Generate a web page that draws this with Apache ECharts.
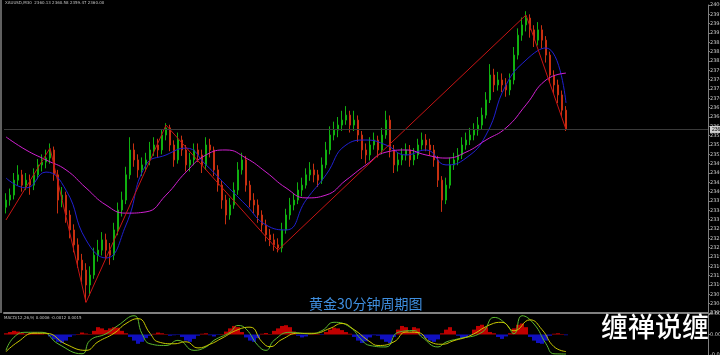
<!DOCTYPE html>
<html><head><meta charset="utf-8">
<script src="https://cdn.jsdelivr.net/npm/echarts@6/dist/echarts.min.js"></script>
<style>html,body{margin:0;padding:0;background:#000;}#c{width:720px;height:355px;}</style>
</head><body><div id="c"></div>
<script>
const slotCount = 176;
const closes = [
2337.3,2338.9,2343.7,2345.4,2342.1,2343.7,2342.1,2345.4,2348.6,2349.5,
2350.8,2353.4,2345.4,2337.3,2338.9,2332.5,2327.7,2322.9,2318.0,2314.8,
2310.0,2313.2,2319.6,2321.2,2324.5,2321.2,2319.6,2327.7,2334.1,2337.3,
2345.4,2353.4,2350.2,2347.0,2348.6,2350.2,2353.4,2355.0,2353.4,2358.2,
2360.5,2355.0,2350.2,2356.6,2353.4,2348.6,2350.2,2353.4,2351.8,2348.6,
2355.0,2353.4,2347.0,2342.1,2337.3,2332.5,2335.7,2340.5,2347.0,2350.2,
2342.1,2337.3,2335.7,2332.5,2329.3,2326.1,2324.5,2322.9,2321.9,2327.7,
2332.5,2335.7,2337.3,2340.5,2342.1,2345.4,2347.0,2345.4,2343.7,2348.6,
2353.4,2358.2,2359.8,2361.4,2363.0,2364.6,2361.4,2363.0,2358.2,2353.4,
2351.8,2355.0,2356.6,2353.4,2358.2,2363.0,2353.4,2348.6,2350.2,2351.8,
2353.4,2350.2,2351.8,2355.0,2356.6,2355.0,2353.4,2350.2,2343.7,2337.3,
2342.1,2348.6,2350.2,2351.8,2355.0,2356.6,2358.2,2359.8,2361.4,2364.6,
2369.5,2377.5,2374.3,2375.9,2374.3,2372.7,2375.9,2383.9,2390.3,2393.6,
2395.8,2392.0,2388.7,2392.0,2388.7,2383.9,2377.5,2374.3,2371.1,2366.2,
2360.0];
const opens = [
2335.0,2337.3,2338.9,2343.7,2345.4,2342.1,2343.7,2342.1,2345.4,2348.6,
2349.5,2350.8,2353.4,2345.4,2337.3,2338.9,2332.5,2327.7,2322.9,2318.0,
2314.8,2310.0,2313.2,2319.6,2321.2,2324.5,2321.2,2319.6,2327.7,2334.1,
2337.3,2345.4,2353.4,2350.2,2347.0,2348.6,2350.2,2353.4,2355.0,2353.4,
2358.2,2360.5,2355.0,2350.2,2356.6,2353.4,2348.6,2350.2,2353.4,2351.8,
2348.6,2355.0,2353.4,2347.0,2342.1,2337.3,2332.5,2335.7,2340.5,2347.0,
2350.2,2342.1,2337.3,2335.7,2332.5,2329.3,2326.1,2324.5,2322.9,2321.9,
2327.7,2332.5,2335.7,2337.3,2340.5,2342.1,2345.4,2347.0,2345.4,2343.7,
2348.6,2353.4,2358.2,2359.8,2361.4,2363.0,2364.6,2361.4,2363.0,2358.2,
2353.4,2351.8,2355.0,2356.6,2353.4,2358.2,2363.0,2353.4,2348.6,2350.2,
2351.8,2353.4,2350.2,2351.8,2355.0,2356.6,2355.0,2353.4,2350.2,2343.7,
2337.3,2342.1,2348.6,2350.2,2351.8,2355.0,2356.6,2358.2,2359.8,2361.4,
2364.6,2369.5,2377.5,2374.3,2375.9,2374.3,2372.7,2375.9,2383.9,2390.3,
2393.6,2395.8,2392.0,2388.7,2392.0,2388.7,2383.9,2377.5,2374.3,2371.1,
2366.2];
const highs = [
2339.5,2341.0,2346.0,2348.5,2347.0,2346.0,2345.5,2347.5,2350.5,2352.0,
2353.5,2355.5,2354.5,2347.0,2341.5,2340.0,2334.0,2329.5,2325.0,2320.0,
2317.0,2316.0,2322.0,2324.5,2327.0,2326.5,2323.5,2330.0,2336.5,2340.0,
2348.0,2357.5,2355.5,2352.0,2351.0,2352.5,2356.0,2357.5,2357.0,2360.0,
2362.0,2361.5,2356.5,2359.0,2358.0,2355.0,2352.5,2355.5,2355.5,2353.5,
2357.5,2357.0,2354.5,2348.5,2343.5,2339.0,2338.0,2343.0,2349.5,2352.5,
2351.5,2343.5,2339.5,2337.5,2334.0,2331.0,2328.0,2326.5,2325.0,2330.0,
2334.5,2338.0,2339.5,2343.0,2344.5,2347.5,2349.5,2349.0,2347.0,2351.0,
2356.0,2361.0,2362.5,2364.0,2366.0,2367.5,2366.0,2366.0,2364.5,2359.5,
2355.5,2357.5,2359.0,2358.0,2360.5,2366.0,2364.5,2355.0,2352.5,2354.0,
2355.5,2355.0,2354.0,2357.0,2359.0,2358.5,2357.0,2355.0,2351.5,2345.0,
2344.5,2351.0,2352.5,2354.0,2357.5,2359.0,2360.5,2362.0,2364.0,2367.0,
2372.0,2381.0,2379.5,2378.5,2378.0,2376.5,2378.0,2386.5,2392.5,2396.0,
2398.0,2397.0,2393.5,2394.5,2393.5,2390.0,2385.0,2379.0,2376.0,2372.5,
2367.5];
const lows = [
2333.0,2335.5,2337.5,2342.0,2340.0,2340.5,2339.0,2340.5,2344.0,2346.5,
2347.5,2349.0,2343.5,2333.0,2335.0,2330.0,2325.0,2320.5,2315.5,2311.0,
2304.5,2306.5,2312.0,2317.5,2319.5,2318.5,2316.5,2318.0,2326.0,2332.0,
2336.0,2344.0,2348.0,2344.5,2345.0,2346.5,2348.5,2351.5,2351.0,2352.0,
2356.5,2353.0,2348.0,2349.0,2351.5,2346.5,2346.5,2348.5,2349.5,2346.0,
2347.0,2351.0,2345.0,2340.0,2334.5,2329.5,2331.0,2334.5,2339.0,2345.5,
2340.0,2335.0,2333.0,2330.0,2327.0,2324.0,2322.5,2321.0,2320.5,2320.5,
2326.5,2331.0,2334.0,2336.0,2338.5,2341.0,2343.5,2343.0,2341.5,2342.5,
2347.5,2352.0,2356.5,2357.5,2359.5,2361.5,2359.0,2359.5,2356.0,2350.5,
2349.0,2350.0,2353.5,2351.0,2352.0,2357.0,2351.0,2346.0,2346.5,2348.5,
2350.0,2348.0,2348.5,2350.5,2353.5,2353.0,2351.5,2348.0,2341.5,2333.5,
2336.0,2341.0,2347.0,2348.5,2350.5,2353.5,2355.0,2356.5,2358.0,2360.0,
2363.5,2368.5,2372.0,2372.5,2372.0,2370.5,2371.0,2374.5,2382.5,2388.5,
2391.5,2389.5,2386.5,2387.0,2386.0,2381.5,2375.0,2371.5,2368.5,2364.0,
2359.5];
const lastPrice = 2360.0;
const maFastPoints = [[0,2344.4],[5,2341.2],[10,2346.3],[15,2340.5],[20,2324.5],[25,2318.7],[30,2329.3],[35,2348.6],[40,2351.8],[45,2354.0],[50,2348.6],[55,2342.1],[60,2335.7],[65,2329.3],[70,2327.7],[75,2337.3],[80,2345.4],[85,2355.0],[90,2356.6],[95,2355.0],[100,2351.8],[105,2353.4],[110,2348.6],[115,2350.8],[120,2358.2],[125,2374.3],[130,2382.3],[135,2386.2],[140,2368.5]];
const maSlowPoints = [[0,2357.6],[5,2353.4],[10,2350.2],[15,2347.0],[20,2341.2],[25,2335.7],[30,2333.1],[35,2333.5],[40,2338.9],[45,2346.3],[50,2351.8],[55,2353.4],[60,2350.8],[65,2346.3],[70,2341.2],[75,2338.0],[80,2338.9],[85,2343.7],[90,2348.6],[95,2352.7],[100,2353.4],[105,2351.8],[110,2350.8],[115,2352.7],[120,2356.6],[125,2360.5],[130,2367.9],[135,2375.9],[140,2378.1]];
const zigzagPoints = [[0,2330.9],[11,2354.0],[20,2304.4],[40,2361.4],[68,2321.2],[130,2396.8],[140,2360.0]];
const macdHist = [
0.0005,0.0010,0.0015,0.0012,0.0006,0.0003,0.0006,0.0010,0.0008,0.0004,
0.0001,-0.0008,-0.0020,-0.0030,-0.0035,-0.0025,-0.0010,-0.0003,0.0002,0.0008,
0.0004,0.0002,0.0015,0.0030,0.0025,0.0018,0.0025,0.0030,0.0028,0.0015,
0.0005,-0.0010,-0.0025,-0.0038,-0.0030,-0.0015,-0.0005,0.0003,0.0008,0.0005,
0.0002,-0.0005,-0.0003,-0.0002,-0.0010,-0.0025,-0.0030,-0.0018,-0.0005,0.0003,
0.0005,-0.0003,-0.0008,-0.0002,0.0002,0.0012,0.0025,0.0035,0.0030,0.0010,
-0.0012,-0.0025,-0.0030,-0.0015,0.0003,0.0006,0.0002,0.0015,0.0025,0.0035,
0.0038,0.0030,0.0012,-0.0005,-0.0012,-0.0008,0.0002,0.0004,0.0002,-0.0002,
0.0010,0.0020,0.0028,0.0025,0.0018,0.0010,0.0003,-0.0010,-0.0025,-0.0035,
-0.0028,-0.0012,-0.0003,-0.0005,-0.0020,-0.0030,-0.0035,-0.0010,0.0020,0.0035,
0.0030,0.0010,0.0030,0.0025,-0.0005,-0.0015,-0.0025,-0.0030,-0.0020,0.0005,
0.0020,0.0030,0.0015,-0.0005,-0.0015,-0.0012,-0.0002,0.0020,0.0035,0.0040,
0.0030,0.0010,0.0005,-0.0010,-0.0018,-0.0008,0.0005,0.0025,0.0040,0.0045,
0.0030,-0.0010,-0.0025,-0.0035,-0.0038,-0.0025,-0.0005,0.0003,0.0005,0.0002,
-0.0003];
const oscGreen = [[0,-0.0065],[2,-0.0011],[5,0.0009],[9,0.0009],[13,-0.0038],[19,-0.0079],[21,-0.0024],[25,0.0003],[28,0.0037],[32,0.0077],[34,0.0003],[36,-0.0038],[40,-0.0045],[43,-0.0024],[47,-0.0065],[50,-0.0051],[52,-0.0024],[56,0.0009],[58,0.0037],[60,0.0023],[63,-0.0045],[65,-0.0065],[67,-0.0024],[71,0.0009],[76,0.0003],[79,0.0016],[82,0.0050],[86,0.0030],[89,-0.0024],[91,-0.0045],[95,-0.0051],[98,0.0009],[102,0.0016],[104,-0.0011],[108,-0.0051],[110,-0.0031],[113,-0.0018],[119,0.0009],[122,0.0070],[125,0.0043],[127,0.0003],[129,0.0077],[132,0.0043],[135,-0.0038],[137,-0.0079],[140,-0.0080]];
const oscYellow = [[0,-0.0070],[3,-0.0030],[7,0.0005],[10,0.0005],[15,-0.0040],[20,-0.0065],[23,-0.0030],[27,0.0005],[30,0.0045],[33,0.0065],[36,0.0005],[38,-0.0030],[42,-0.0038],[45,-0.0030],[48,-0.0055],[51,-0.0040],[54,-0.0015],[58,0.0020],[61,0.0030],[64,-0.0030],[66,-0.0050],[69,-0.0020],[73,0.0005],[77,0.0005],[81,0.0025],[84,0.0045],[87,0.0020],[91,-0.0030],[93,-0.0045],[97,-0.0030],[100,0.0010],[103,0.0008],[106,-0.0030],[109,-0.0040],[112,-0.0025],[116,-0.0005],[121,0.0040],[124,0.0050],[127,0.0015],[131,0.0060],[134,0.0020],[137,-0.0050],[140,-0.0070]];
const titleText = '黄金30分钟周期图';
const brandText = '缠禅说缠';
const headerText = 'XAUUSD,M30  2360.13 2360.58 2359.47 2360.00';
const subHeaderText = 'MACD(12,26,9) 0.0006 -0.0012 0.0015';

const slots = Array.from({length: slotCount}, (_, i) => String(i));
const candleData = closes.map((c, i) => [opens[i], c, lows[i], highs[i]]);
const histData = macdHist.map(v => ({value: v, itemStyle: {color: v >= 0 ? '#c00000' : '#1010c0'}}));

const chart = echarts.init(document.getElementById('c'), null, {renderer: 'canvas'});
const axisLbl = {fontSize: 5, color: '#c8c8c8', margin: 2, fontFamily: 'DejaVu Sans'};
chart.setOption({
  animation: false,
  backgroundColor: '#000000',
  grid: [
    {left: 4, right: 12, top: 5, height: 308, containLabel: false, outerBoundsMode: 'none'},
    {left: 4, right: 12, top: 314, height: 41, containLabel: false, outerBoundsMode: 'none'}
  ],
  xAxis: [
    {type: 'category', data: slots, gridIndex: 0, boundaryGap: true,
     axisLine: {show: true, lineStyle: {color: '#808080', width: 2}}, axisTick: {show: false}, axisLabel: {show: false}, splitLine: {show: false}},
    {type: 'category', data: slots, gridIndex: 1, boundaryGap: true,
     axisLine: {show: false}, axisTick: {show: false}, axisLabel: {show: false}, splitLine: {show: false}}
  ],
  yAxis: [
    {type: 'value', gridIndex: 0, position: 'right', min: 2301, max: 2400, interval: 3,
     axisLine: {show: true, lineStyle: {color: '#808080'}}, axisTick: {show: true, length: 2, lineStyle: {color: '#808080'}},
     axisLabel: Object.assign({formatter: v => v.toFixed(2)}, axisLbl), splitLine: {show: false}},
    {type: 'value', gridIndex: 1, position: 'right', min: -0.0084, max: 0.0084, interval: 0.0084,
     axisLine: {show: true, lineStyle: {color: '#808080'}}, axisTick: {show: true, length: 2, lineStyle: {color: '#808080'}},
     axisLabel: Object.assign({formatter: v => v === 0 ? '0.00' : v.toFixed(4)}, axisLbl), splitLine: {show: false}}
  ],
  series: [
    {type: 'candlestick', xAxisIndex: 0, yAxisIndex: 0, data: candleData, barWidth: 2,
     itemStyle: {color: '#10b010', color0: '#c83010', borderColor: '#10b010', borderColor0: '#c83010', borderWidth: 1},
     markLine: {silent: true, symbol: 'none', data: [{yAxis: lastPrice}],
       lineStyle: {color: '#3a3a3a', type: 'solid', width: 1},
       label: {show: true, position: 'end', formatter: () => lastPrice.toFixed(2), fontSize: 5, color: '#000', backgroundColor: '#d0d0d0', padding: [1, 2], distance: 2}}},
    {type: 'line', xAxisIndex: 0, yAxisIndex: 0, data: maFastPoints, smooth: true, symbol: 'none', lineStyle: {color: '#2020d0', width: 1}},
    {type: 'line', xAxisIndex: 0, yAxisIndex: 0, data: maSlowPoints, smooth: true, symbol: 'none', lineStyle: {color: '#d020d0', width: 1}},
    {type: 'line', xAxisIndex: 0, yAxisIndex: 0, data: zigzagPoints, symbol: 'none', lineStyle: {color: '#c81414', width: 1}},
    {type: 'bar', xAxisIndex: 1, yAxisIndex: 1, data: histData, barCategoryGap: '0%'},
    {type: 'line', xAxisIndex: 1, yAxisIndex: 1, data: oscGreen, smooth: true, symbol: 'none', lineStyle: {color: '#5cb82e', width: 1}},
    {type: 'line', xAxisIndex: 1, yAxisIndex: 1, data: oscYellow, smooth: true, symbol: 'none', lineStyle: {color: '#c8c800', width: 1}}
  ],
  graphic: [
    {type: 'rect', left: 0, top: 0, shape: {width: 2, height: 313}, style: {fill: '#606060'}, z: 100},
    {type: 'text', left: 5, top: 1, style: {text: headerText, fill: '#c0c0c0', fontSize: 4, fontFamily: 'DejaVu Sans'}, z: 100},
    {type: 'text', left: 4, top: 316, style: {text: subHeaderText, fill: '#c0c0c0', fontSize: 4, fontFamily: 'DejaVu Sans'}, z: 100},
    {type: 'text', left: 309, top: 297, style: {text: titleText, fill: '#3f8fe0', fontSize: 14, fontFamily: 'Noto Sans CJK SC'}, z: 100},
    {type: 'text', left: 601, top: 313, style: {text: brandText, fill: '#ffffff', fontSize: 27, fontWeight: 500, fontFamily: 'Noto Sans CJK SC'}, z: 100}
  ]
});
</script>
</body></html>
